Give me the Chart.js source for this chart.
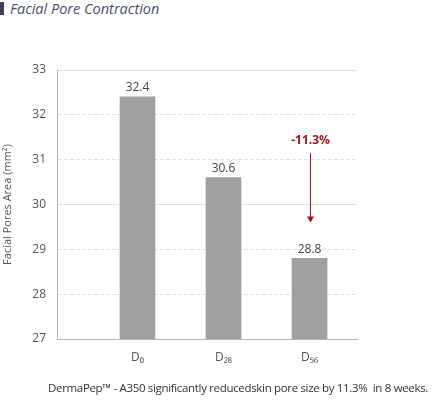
<!DOCTYPE html>
<html><head><meta charset="utf-8">
<script src="https://cdn.jsdelivr.net/npm/chart.js@4"></script>
<style>
html,body{margin:0;padding:0;background:#fff;width:433px;height:404px;overflow:hidden;font-family:"Open Sans",sans-serif;}
#wrap{position:relative;width:433px;height:404px;}
#title{position:absolute;left:0;top:0;height:18px;font-style:italic;font-size:14.5px;color:#4a4f6e;line-height:18px;white-space:nowrap;}
#title span.bar{display:inline-block;width:4px;height:13px;background:#3d3f63;margin-right:6px;vertical-align:-1px;}
#foot{position:absolute;left:48px;top:380px;font-size:11.5px;color:#333;white-space:nowrap;}
canvas{position:absolute;left:0;top:0;}
</style></head>
<body><div id="wrap">
<div id="title"><span class="bar"></span>Facial Pore Contraction</div>
<canvas id="c" width="433" height="404"></canvas>
<div id="foot">DermaPep™ - A350 significantly reducedskin pore size by 11.3%&nbsp; in 8 weeks.</div>
</div>
<script>
const categories = ["D₀", "D₂₈", "D₅₆"];
const values = [32.4, 30.6, 28.8];
const yTicks = [27, 28, 29, 30, 31, 32, 33];
const solidGridTicks = [30, 33];
const changeLabel = "-11.3%";
const arrowFrom = 31.15, arrowTo = 29.6, changeLabelAt = 31.42;

// fit footer width to reference
(function(){
  const f = document.getElementById('foot');
  const target = 380;
  const w = f.getBoundingClientRect().width;
  const n = f.textContent.length;
  f.style.letterSpacing = ((target - w) / n).toFixed(3) + 'px';
})();

// crosshatch texture
const pc = document.createElement('canvas'); pc.width = 2; pc.height = 2;
const px = pc.getContext('2d');
px.fillStyle = '#a6a6a6'; px.fillRect(0,0,2,2);
px.fillStyle = '#9a9a9a'; px.fillRect(0,0,1,1); px.fillRect(1,1,1,1);
const ctx0 = document.getElementById('c').getContext('2d');
const pattern = ctx0.createPattern(pc, 'repeat');

const labelsPlugin = {
  id: 'labels',
  afterDatasetsDraw(chart) {
    const ctx = chart.ctx, xs = chart.scales.x, ys = chart.scales.y;
    ctx.save();
    ctx.font = '12px "Open Sans"';
    ctx.fillStyle = '#444';
    ctx.textAlign = 'center'; ctx.textBaseline = 'bottom';
    values.forEach((v, i) => {
      ctx.fillText(v.toFixed(1), xs.getPixelForValue(i), ys.getPixelForValue(v) - 3);
    });
    const ax = Math.round(xs.getPixelForValue(2)) + 0.5;
    ctx.font = 'bold 12px "Open Sans"';
    ctx.fillStyle = '#a5121c';
    ctx.textBaseline = 'middle';
    ctx.fillText(changeLabel, ax, ys.getPixelForValue(changeLabelAt));
    const y1 = ys.getPixelForValue(arrowFrom), y2 = ys.getPixelForValue(arrowTo);
    ctx.strokeStyle = '#a5121c'; ctx.lineWidth = 1;
    ctx.beginPath(); ctx.moveTo(ax, y1); ctx.lineTo(ax, y2 - 4); ctx.stroke();
    ctx.beginPath();
    ctx.moveTo(ax, y2);
    ctx.lineTo(ax - 3.5, y2 - 6);
    ctx.lineTo(ax + 3.5, y2 - 6);
    ctx.closePath(); ctx.fill();
    ctx.restore();
  }
};

new Chart(document.getElementById('c'), {
  type: 'bar',
  data: {
    datasets: [{
      data: values.map((v, i) => ({x: i, y: v})),
      backgroundColor: pattern,
      borderWidth: 0,
      barThickness: 35
    }]
  },
  options: {
    responsive: false,
    animation: false,
    events: [],
    layout: { padding: { left: 0, right: 76, top: 70, bottom: 35 } },
    plugins: { legend: { display: false }, tooltip: { enabled: false } },
    scales: {
      x: {
        type: 'linear',
        offset: false,
        min: -0.936, max: 2.552,
        afterBuildTicks(s) { s.ticks = categories.map((c, i) => ({value: i})); },
        afterFit(s) { s.height = 30; },
        ticks: {
          callback: (v) => categories[v],
          font: { family: '"Open Sans"', size: 12 },
          color: '#555', padding: 11, maxRotation: 0, autoSkip: false
        },
        grid: { display: false, drawTicks: false, offset: false },
        border: { display: true, color: '#b5b5b5', width: 1 }
      },
      y: {
        min: 27, max: 33,
        afterBuildTicks(s) { s.ticks = yTicks.map(v => ({value: v})); },
        afterFit(s) { s.width = 57; },
        ticks: {
          font: { family: '"Open Sans"', size: 12 },
          color: '#555', padding: 11
        },
        grid: { color: '#e0e0e0', drawTicks: false, lineWidth: 1 },
        border: { display: true, color: '#b5b5b5', width: 1, dash: [4, 2] },
        title: {
          display: true, text: 'Facial Pores Area (mm²)',
          font: { family: '"Open Sans"', size: 11 }, color: '#555',
          padding: { top: 1, bottom: 0 }
        }
      },
      y2: {
        position: 'left',
        display: true,
        min: 27, max: 33,
        afterBuildTicks(s) { s.ticks = solidGridTicks.map(v => ({value: v})); },
        afterFit(s) { s.width = 0; },
        ticks: { display: false },
        grid: { color: '#e0e0e0', drawTicks: false, lineWidth: 1 },
        border: { display: false }
      }
    }
  },
  plugins: [labelsPlugin]
});
</script>
</body></html>
